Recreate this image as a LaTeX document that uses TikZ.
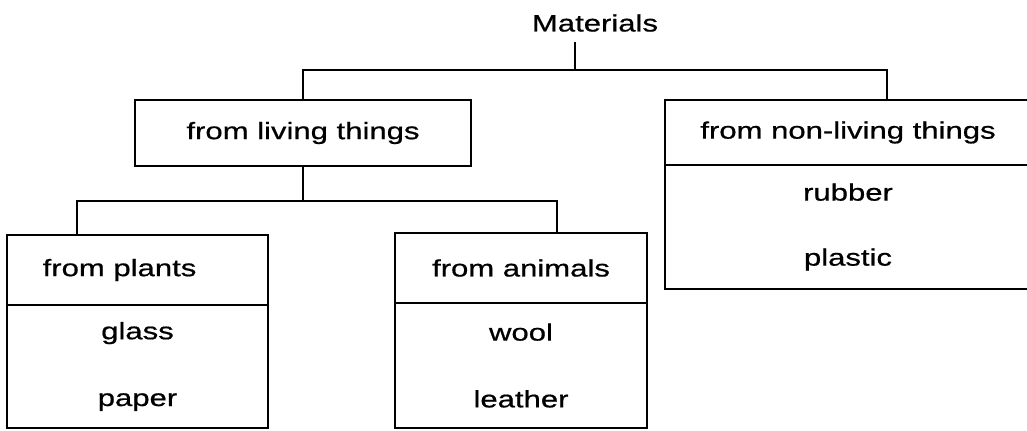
\documentclass[tikz,border=0pt]{standalone}
\usepackage{fontspec}
\setmainfont[FakeStretch=1.31,FakeBold=0.7]{Liberation Sans}
\usetikzlibrary{positioning}

\begin{document}
\begin{tikzpicture}[x=0.02cm,y=-0.02cm]
    \tikzset{head/.style={rectangle,draw=black,line width=1.1pt,outer sep=0pt,inner sep=0pt,font=\fontsize{13.5}{16}\selectfont}}
    \tikzset{body/.style={head,align=center}}
    \tikzset{title/.style={font=\fontsize{13.5}{16}\selectfont,inner xsep=0pt,inner ysep=0.2cm}}
    \tikzset{link/.style={line width=1.1pt}}
    \useasboundingbox (0,0) rectangle (1027,430);

    \node[title] at (595,23) (mat) {Materials};

    \node[head, minimum width=6.72cm, minimum height=1.32cm] at (303,133) (living) {from living things};
    \node[head, minimum width=7.32cm, minimum height=1.3cm] at (848,132.5) (nonliv) {from non-living things};
    \node[body, minimum width=7.32cm, minimum height=2.48cm, below=0pt of nonliv] (nonlivB) {rubber\\[21pt]plastic};

    \node[head, minimum width=5.22cm, minimum height=1.4cm] at (137.5,270) (plants) {from plants\hspace*{0.72cm}};
    \node[body, minimum width=5.22cm, minimum height=2.46cm, below=0pt of plants] (plantsB) {glass\\[22pt]paper};

    \node[head, minimum width=5.04cm, minimum height=1.4cm] at (521,268) (animals) {from animals};
    \node[body, minimum width=5.04cm, minimum height=2.5cm, below=0pt of animals] (animalsB) {wool\\[22pt]leather};

    \coordinate (j0) at (575,70);
    \coordinate (j1) at (887,70);
    \coordinate (j2) at (77,201);
    \coordinate (j3) at (557,201);

    \draw[link] (j0 |- mat.south) -- (j0);
    \draw[link] (living.north) |- (j1) -- (j1 |- nonliv.north);
    \draw[link] (living.south) -- (living.south |- j2);
    \draw[link] (j2 |- plants.north) |- (j3) -- (j3 |- animals.north);
\end{tikzpicture}
\end{document}
